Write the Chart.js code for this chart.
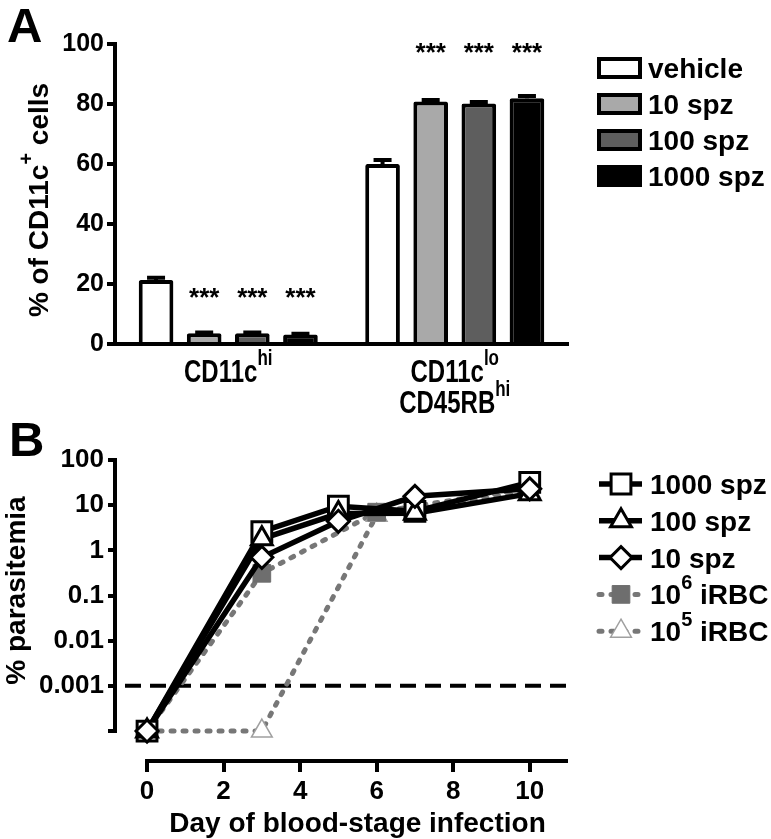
<!DOCTYPE html>
<html lang="en">
<head>
<meta charset="utf-8">
<title>CD11c subsets and parasitemia</title>
<script src="https://cdn.jsdelivr.net/npm/chart.js@4.4.1/dist/chart.umd.min.js"></script>
<style>
  html, body { margin: 0; padding: 0; background: #fff; }
  #page { position: relative; width: 771px; height: 839px; overflow: hidden; }
  #page canvas { position: absolute; left: 0; }
  #chartA { top: 0; }
  #chartB { top: 420px; }
</style>
</head>
<body>
<div id="page">
  <canvas id="chartA" width="771" height="420"></canvas>
  <canvas id="chartB" width="771" height="419"></canvas>
</div>
<script>
"use strict";

const FONT = '"Liberation Sans", Arial, Helvetica, sans-serif';

// ---- panel A: % of CD11c+ cells ----
const cellGroups = ["CD11c^{hi}", "CD11c^{lo}|CD45RB^{hi}"];
const treatments = ["vehicle", "10 spz", "100 spz", "1000 spz"];
const pctVehicle = [21.3, 60.0];
const pct10spz = [3.6, 80.8];
const pct100spz = [3.6, 80.2];
const pct1000spz = [3.2, 81.9];
const semVehicle = [0.8, 1.3];
const sem10spz = [0.2, 0.5];
const sem100spz = [0.2, 0.5];
const sem1000spz = [0.2, 0.8];
const sigMarks = ["", "***", "***", "***"];
const sigLevel = [17.0, 98.7];
const barColors = ["#ffffff", "#a9a9a9", "#5e5e5e", "#000000"];

// ---- panel B: % parasitemia ----
const daysSpz = [0, 3, 5, 7, 10];
const para1000spz = [0.0001, 2.6, 9.5, 7.3, 32];
const para100spz = [0.0001, 1.8, 6.5, 6.6, 18];
const para10spz = [0.0001, 0.7, 4.4, 15.7, 23];
const daysIrbc = [0, 3, 6, 10];
const para1e6Irbc = [0.0001, 0.31, 7, 24];
const para1e5Irbc = [0.0001, 0.0001, 6, 20];
const detectionLimit = 0.001;
const yTicksB = [0.0001, 0.001, 0.01, 0.1, 1, 10, 100];
const yTickLabelsB = ["", "0.001", "0.01", "0.1", "1", "10", "100"];
const xTicksB = [0, 2, 4, 6, 8, 10];
const legendLabelsB = ["1000 spz", "100 spz", "10 spz", "10^{6} iRBC", "10^{5} iRBC"];

Chart.defaults.font.family = FONT;
Chart.defaults.color = "#000";

// text with ^{superscript} parts
function richParts(str) {
  const parts = [];
  str.split(/(\^\{[^}]*\})/).forEach(s => {
    if (!s) return;
    if (s.startsWith("^{")) parts.push({ t: s.slice(2, -1), sup: true });
    else parts.push({ t: s, sup: false });
  });
  return parts;
}

function drawRich(ctx, str, x, y, opt) {
  const size = opt.size;
  const supSize = Math.round(size * 0.72);
  const parts = richParts(str);
  const fontOf = p => `bold ${p.sup ? supSize : size}px ${FONT}`;
  let w = 0;
  parts.forEach(p => {
    ctx.font = fontOf(p);
    p.w = ctx.measureText(p.t).width;
    w += p.w;
  });
  ctx.save();
  ctx.translate(x, y);
  if (opt.rotate) ctx.rotate(opt.rotate);
  ctx.scale(1, opt.sy || 1);
  ctx.fillStyle = "#000";
  ctx.textAlign = "left";
  ctx.textBaseline = "alphabetic";
  let cx = opt.align === "center" ? -w / 2 : 0;
  parts.forEach(p => {
    ctx.font = fontOf(p);
    ctx.fillText(p.t, cx, p.sup ? -size * 0.55 : 0);
    cx += p.w;
  });
  ctx.restore();
}

function drawMarker(ctx, ds, x, y) {
  ctx.save();
  ctx.fillStyle = ds.pointBackgroundColor;
  ctx.strokeStyle = ds.pointBorderColor;
  ctx.lineWidth = ds.pointBorderWidth;
  ctx.setLineDash([]);
  Chart.helpers.drawPoint(ctx, {
    pointStyle: ds.pointStyle,
    radius: ds.pointRadius,
    rotation: 0,
    borderWidth: ds.pointBorderWidth
  }, x, y);
  ctx.restore();
}

const panelAPlugin = {
  id: "panelA",
  afterDatasetsDraw(chart) {
    const ctx = chart.ctx;
    const y = chart.scales.y;
    ctx.save();
    chart.data.datasets.forEach((ds, di) => {
      const meta = chart.getDatasetMeta(di);
      meta.data.forEach((bar, i) => {
        // upper error bar
        const top = y.getPixelForValue(ds.data[i] + ds.sem[i]);
        ctx.strokeStyle = "#000";
        ctx.lineWidth = 4;
        ctx.beginPath();
        ctx.moveTo(bar.x, bar.y);
        ctx.lineTo(bar.x, top);
        ctx.moveTo(bar.x - 9, top);
        ctx.lineTo(bar.x + 9, top);
        ctx.stroke();
        // significance
        if (sigMarks[di]) {
          ctx.fillStyle = "#000";
          ctx.font = `bold 26px ${FONT}`;
          ctx.textAlign = "center";
          ctx.textBaseline = "alphabetic";
          ctx.fillText(sigMarks[di], bar.x, y.getPixelForValue(sigLevel[i]) + 13);
        }
      });
    });
    ctx.restore();
  },
  afterDraw(chart) {
    const ctx = chart.ctx;
    const x = chart.scales.x;
    const area = chart.chartArea;

    // category labels
    cellGroups.forEach((g, i) => {
      g.split("|").forEach((line, k) => {
        drawRich(ctx, line, x.getPixelForValue(i), area.bottom + 38 + k * 31,
          { size: 24, sy: 1.27, align: "center" });
      });
    });

    // y title
    drawRich(ctx, "% of CD11c^{+} cells", 48, (area.top + area.bottom) / 2 + 6,
      { size: 28, align: "center", rotate: -Math.PI / 2 });

    // panel letter
    ctx.save();
    ctx.fillStyle = "#000";
    ctx.font = `bold 49px ${FONT}`;
    ctx.textBaseline = "alphabetic";
    ctx.fillText("A", 7, 42);
    ctx.restore();

    // legend
    chart.data.datasets.forEach((ds, i) => {
      const cy = 68 + i * 36;
      ctx.save();
      ctx.fillStyle = ds.backgroundColor;
      ctx.fillRect(597, cy - 11, 45, 22);
      ctx.strokeStyle = "#000";
      ctx.lineWidth = 4;
      ctx.strokeRect(599, cy - 9, 41, 18);
      ctx.restore();
      drawRich(ctx, ds.label, 648, cy + 10, { size: 28 });
    });
  }
};

new Chart(document.getElementById("chartA"), {
  type: "bar",
  data: {
    labels: cellGroups,
    datasets: [
      { label: treatments[0], data: pctVehicle, sem: semVehicle, backgroundColor: barColors[0] },
      { label: treatments[1], data: pct10spz, sem: sem10spz, backgroundColor: barColors[1] },
      { label: treatments[2], data: pct100spz, sem: sem100spz, backgroundColor: barColors[2] },
      { label: treatments[3], data: pct1000spz, sem: sem1000spz, backgroundColor: barColors[3] }
    ]
  },
  options: {
    responsive: false,
    animation: false,
    devicePixelRatio: 1,
    events: [],
    layout: { padding: { top: 44, right: 203, bottom: 0, left: 0 } },
    datasets: {
      bar: {
        borderColor: "#000",
        borderWidth: 4,
        borderSkipped: "start",
        borderRadius: 2,
        categoryPercentage: 0.85,
        barPercentage: 0.72
      }
    },
    plugins: { legend: { display: false }, tooltip: { enabled: false } },
    scales: {
      x: {
        grid: { display: false },
        ticks: { display: false },
        border: { display: true, color: "#000", width: 4 },
        afterFit: s => { s.height = 76; }
      },
      y: {
        min: 0,
        max: 100,
        ticks: { stepSize: 20, color: "#000", padding: 3, font: { size: 25, weight: "bold" } },
        grid: { drawOnChartArea: false, drawTicks: true, tickLength: 8, color: "#000", lineWidth: 4 },
        border: { display: true, color: "#000", width: 4 },
        afterFit: s => { s.width = 115; }
      }
    }
  },
  plugins: [panelAPlugin]
});

// ---- panel B ----
const spzLine = { borderColor: "#000", borderWidth: 5.5, borderDash: [] };
const irbcLine = { borderColor: "#777777", borderWidth: 5, borderDash: [3, 9], borderCapStyle: "round" };
const markerStyles = [
  { pointStyle: "rect", pointRadius: 14, pointBackgroundColor: "#fff", pointBorderColor: "#000", pointBorderWidth: 3 },
  { pointStyle: "triangle", pointRadius: 12, pointBackgroundColor: "#fff", pointBorderColor: "#000", pointBorderWidth: 3 },
  { pointStyle: "rectRot", pointRadius: 11, pointBackgroundColor: "#fff", pointBorderColor: "#000", pointBorderWidth: 3 },
  { pointStyle: "rect", pointRadius: 12.5, pointBackgroundColor: "#6e6e6e", pointBorderColor: "#6e6e6e", pointBorderWidth: 1 },
  { pointStyle: "triangle", pointRadius: 12, pointBackgroundColor: "#fff", pointBorderColor: "#a0a0a0", pointBorderWidth: 1.5 }
];

const pts = (days, vals) => days.map((d, i) => ({ x: d, y: vals[i] }));
const seriesB = [
  [daysSpz, para1000spz, spzLine],
  [daysSpz, para100spz, spzLine],
  [daysSpz, para10spz, spzLine],
  [daysIrbc, para1e6Irbc, irbcLine],
  [daysIrbc, para1e5Irbc, irbcLine]
];
// draw order: irbc lines, irbc markers, spz lines, spz markers (diamond on top)
const lineOrder = [4, 5, 6, 9, 10];
const markerOrder = [3, 2, 1, 7, 8];

const datasetsB = [];
seriesB.forEach(([days, vals, line], i) => {
  datasetsB.push(Object.assign({
    label: legendLabelsB[i],
    data: pts(days, vals),
    pointRadius: 0,
    fill: false,
    tension: 0,
    order: lineOrder[i],
    kind: "line"
  }, line));
  datasetsB.push(Object.assign({
    label: legendLabelsB[i],
    data: pts(days, vals),
    showLine: false,
    order: markerOrder[i],
    kind: "marker"
  }, markerStyles[i]));
});

function y0(chart) {
  return chart.scales.y.getPixelForValue(yTicksB[0]);
}

const panelBPlugin = {
  id: "panelB",
  beforeDatasetsDraw(chart) {
    const ctx = chart.ctx;
    const area = chart.chartArea;
    const x = chart.scales.x;
    const y = chart.scales.y;
    ctx.save();
    ctx.strokeStyle = "#000";
    ctx.lineWidth = 4;
    // offset axes
    ctx.beginPath();
    ctx.moveTo(area.left - 2, y.getPixelForValue(yTicksB[yTicksB.length - 1]) - 2);
    ctx.lineTo(area.left - 2, y0(chart) + 2);
    ctx.moveTo(x.getPixelForValue(xTicksB[0]) - 2, area.bottom);
    ctx.lineTo(area.right, area.bottom);
    ctx.stroke();
    // detection limit
    const ly = y.getPixelForValue(detectionLimit);
    ctx.setLineDash([16, 9]);
    ctx.beginPath();
    ctx.moveTo(area.left + 8, ly);
    ctx.lineTo(area.right, ly);
    ctx.stroke();
    ctx.restore();
  },
  afterDraw(chart) {
    const ctx = chart.ctx;
    const area = chart.chartArea;
    const x = chart.scales.x;

    drawRich(ctx, "% parasitemia", 25, (area.top + y0(chart)) / 2 - 5,
      { size: 28, align: "center", rotate: -Math.PI / 2 });
    drawRich(ctx, "Day of blood-stage infection",
      (x.getPixelForValue(xTicksB[0]) + area.right) / 2, 412, { size: 28, align: "center" });

    ctx.save();
    ctx.fillStyle = "#000";
    ctx.font = `bold 49px ${FONT}`;
    ctx.textBaseline = "alphabetic";
    ctx.fillText("B", 9, 36);
    ctx.restore();

    // legend
    const lines = chart.data.datasets.filter(d => d.kind === "line");
    const marks = chart.data.datasets.filter(d => d.kind === "marker");
    lines.forEach((ds, i) => {
      const cy = 64 + i * 36.8;
      ctx.save();
      ctx.strokeStyle = ds.borderColor;
      ctx.lineWidth = ds.borderWidth;
      ctx.setLineDash(ds.borderDash || []);
      ctx.lineCap = ds.borderCapStyle || "butt";
      ctx.beginPath();
      ctx.moveTo(599, cy);
      ctx.lineTo(642, cy);
      ctx.stroke();
      ctx.restore();
      drawMarker(ctx, marks[i], 621, cy);
      drawRich(ctx, ds.label, 650, cy + 10, { size: 28 });
    });
  }
};

new Chart(document.getElementById("chartB"), {
  type: "line",
  data: { datasets: datasetsB },
  options: {
    responsive: false,
    animation: false,
    devicePixelRatio: 1,
    events: [],
    layout: { padding: { top: 40, right: 203, bottom: 0, left: 0 } },
    plugins: { legend: { display: false }, tooltip: { enabled: false } },
    scales: {
      x: {
        type: "linear",
        min: -0.785,
        max: 11,
        afterBuildTicks: s => { s.ticks = xTicksB.map(v => ({ value: v })); },
        ticks: { color: "#000", padding: 4, font: { size: 26, weight: "bold" } },
        grid: { drawOnChartArea: false, drawTicks: true, tickLength: 11, color: "#000", lineWidth: 4 },
        border: { display: false },
        afterFit: s => { s.height = 78; }
      },
      y: {
        type: "logarithmic",
        min: 2.17e-5,
        max: 100,
        afterBuildTicks: s => { s.ticks = yTicksB.map(v => ({ value: v })); },
        ticks: {
          color: "#000",
          padding: 4,
          font: { size: 26, weight: "bold" },
          callback: v => yTickLabelsB[yTicksB.indexOf(v)]
        },
        grid: { drawOnChartArea: false, drawTicks: true, tickLength: 9, color: "#000", lineWidth: 4 },
        border: { display: false },
        afterFit: s => { s.width = 117; }
      }
    }
  },
  plugins: [panelBPlugin]
});
</script>
</body>
</html>
